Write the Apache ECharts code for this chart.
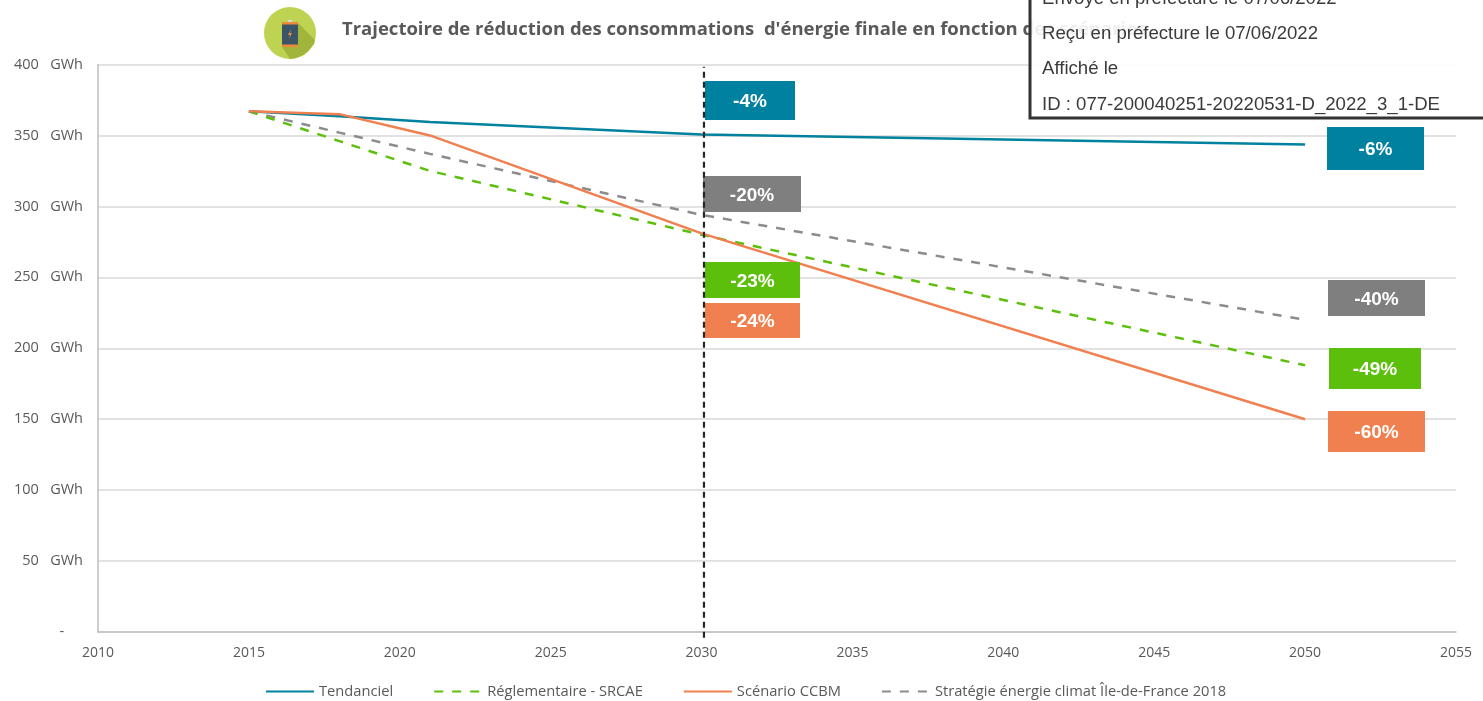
<!DOCTYPE html>
<html lang="fr">
<head>
<meta charset="utf-8">
<title>Trajectoire de réduction des consommations</title>
<style>
    html, body { margin: 0; padding: 0; background: #fff; }
    #chart { width: 1483px; height: 701px; }
</style>
<script src="https://cdn.jsdelivr.net/npm/echarts@6/dist/echarts.min.js"></script>
</head>
<body>
<div id="chart"></div>
<script>
// === DATA ===
const years = [2015, 2018, 2021, 2030, 2050];
const tendanciel = [367, 363.5, 359.5, 350.7, 343.7];
const reglementaire = [367, 346, 325, 280, 188];
const ccbm = [367, 365, 350, 281, 150];
const strategie = [367, 352, 337, 294, 220];
const refYear = [2030.08, 2030.08];
const refLine = [-4, 398.5];

const labels2030 = ['-4%', '-20%', '-23%', '-24%'];
const labels2050 = ['-6%', '-40%', '-49%', '-60%'];
const stampLines = [
    'Envoyé en préfecture le 07/06/2022',
    'Reçu en préfecture le 07/06/2022',
    'Affiché le',
    'ID : 077-200040251-20220531-D_2022_3_1-DE'
];

const BLUE = '#00819f';
const GREEN = '#5cbf0c';
const ORANGE = '#f08050';
const GREY = '#7f7f7f';
const SANS = '"Open Sans", sans-serif';
const ARIAL = '"Liberation Sans", Arial, sans-serif';

const zip = (xs, ys) => xs.map((x, i) => [x, ys[i]]);

// coloured rectangle plus its centred percentage
function box(x, y, w, h, color, label) {
    return [
        {
            type: 'rect', z: 6,
            shape: { x: x, y: y, width: w, height: h },
            style: { fill: color }
        },
        {
            type: 'text', z: 8, x: x + w / 2, y: y + h / 2 + 1.5,
            style: {
                text: label, fill: '#fff', font: 'bold 19px ' + ARIAL,
                textAlign: 'center', textVerticalAlign: 'middle'
            }
        }
    ];
}

function stampText(y, text) {
    return {
        type: 'text', z: 11, x: 1042, y: y,
        style: { text: text, fill: '#3a3a3a', font: '18.6px ' + ARIAL, textVerticalAlign: 'middle' }
    };
}

function lineSeries(name, values, color, dashed) {
    return {
        name: name,
        type: 'line',
        data: zip(years, values),
        symbol: 'none',
        lineStyle: dashed
            ? { color: color, width: 2.5, type: [9, 9] }
            : { color: color, width: 2.5 },
        itemStyle: { color: color }
    };
}

const chart = echarts.init(document.getElementById('chart'));
chart.setOption({
    animation: false,
    textStyle: { fontFamily: SANS },
    grid: { left: 98, right: 27, top: 64.5, bottom: 69 },
    legend: {
        top: 679,
        left: 260,
        itemWidth: 48,
        itemHeight: 3,
        itemGap: 40,
        itemStyle: { opacity: 0 },
        textStyle: { color: '#595959', fontSize: 14.7, fontFamily: SANS },
        data: ['Tendanciel', 'Réglementaire - SRCAE', 'Scénario CCBM', 'Stratégie énergie climat Île-de-France 2018']
    },
    xAxis: {
        type: 'value',
        min: 2010,
        max: 2055,
        interval: 5,
        axisLine: { show: true, lineStyle: { color: '#bfbfbf', width: 1.5 } },
        axisTick: { show: false },
        splitLine: { show: false },
        axisLabel: { color: '#595959', fontSize: 14, margin: 14, formatter: v => String(v) }
    },
    yAxis: {
        type: 'value',
        min: 0,
        max: 400,
        interval: 50,
        axisLine: { show: true, lineStyle: { color: '#bfbfbf', width: 1.5 } },
        axisTick: { show: false },
        splitLine: { lineStyle: { color: '#d9d9d9', width: 1.5 } },
        axisLabel: {
            color: '#595959', fontSize: 14.5, margin: 15,
            formatter: v => (v === 0 ? '-     ' : v + '   GWh')
        }
    },
    series: [
        lineSeries('Stratégie énergie climat Île-de-France 2018', strategie, '#8c8c8c', true),
        lineSeries('Réglementaire - SRCAE', reglementaire, GREEN, true),
        lineSeries('Tendanciel', tendanciel, BLUE, false),
        lineSeries('Scénario CCBM', ccbm, ORANGE, false),
        {
            name: '2030',
            type: 'line',
            z: 7,
            clip: false,
            data: zip(refYear, refLine),
            symbol: 'none',
            lineStyle: { color: '#262626', width: 2.2, type: [6, 4] }
        }
    ],
    graphic: [
        // icon
        { type: 'circle', z: 3, shape: { cx: 290, cy: 33, r: 26 }, style: { fill: '#bfd353' } },
        {
            type: 'polygon', z: 3,
            shape: { points: [[298, 23], [315, 40], [314, 44], [309, 50], [303, 55], [296, 58], [290, 59], [282, 47], [298, 47]] },
            style: { fill: '#a2b53b' }
        },
        { type: 'rect', z: 4, shape: { x: 282, y: 22, width: 16, height: 25 }, style: { fill: '#3c5468' } },
        { type: 'rect', z: 4, shape: { x: 282, y: 22, width: 16, height: 2.5 }, style: { fill: '#ee8a3a' } },
        { type: 'rect', z: 4, shape: { x: 282, y: 44.5, width: 16, height: 2.5 }, style: { fill: '#ee8a3a' } },
        { type: 'rect', z: 4, shape: { x: 288, y: 20, width: 4, height: 2 }, style: { fill: '#d9d9d9' } },
        {
            type: 'polygon', z: 4,
            shape: { points: [[291, 29], [288, 35], [290, 35], [289, 39], [292, 33], [290, 33]] },
            style: { fill: '#ee8a3a' }
        },
        // title
        {
            type: 'text', z: 3, x: 342, y: 30,
            style: {
                text: 'Trajectoire de réduction des consommations  d\'énergie finale en fonction des scénarios',
                fill: '#595959', font: 'bold 18.5px ' + SANS, textVerticalAlign: 'middle'
            }
        },
        // percentages at 2030
        ...box(705, 81, 90, 39, BLUE, labels2030[0]),
        ...box(703, 176, 98, 36, GREY, labels2030[1]),
        ...box(705, 262, 95, 36, GREEN, labels2030[2]),
        ...box(705, 303, 95, 35, ORANGE, labels2030[3]),
        // percentages at 2050
        ...box(1327, 127, 97, 43, BLUE, labels2050[0]),
        ...box(1328, 280, 97, 36, GREY, labels2050[1]),
        ...box(1329, 348, 92, 41, GREEN, labels2050[2]),
        ...box(1328, 411, 97, 41, ORANGE, labels2050[3]),
        // prefecture stamp
        {
            type: 'rect', z: 10,
            shape: { x: 1030, y: -10, width: 470, height: 128 },
            style: { fill: 'rgba(255,255,255,0.9)', stroke: '#333', lineWidth: 3 }
        },
        stampText(-1, stampLines[0]),
        stampText(34, stampLines[1]),
        stampText(69, stampLines[2]),
        stampText(105, stampLines[3])
    ]
});
window.addEventListener('resize', () => chart.resize());
</script>
</body>
</html>
